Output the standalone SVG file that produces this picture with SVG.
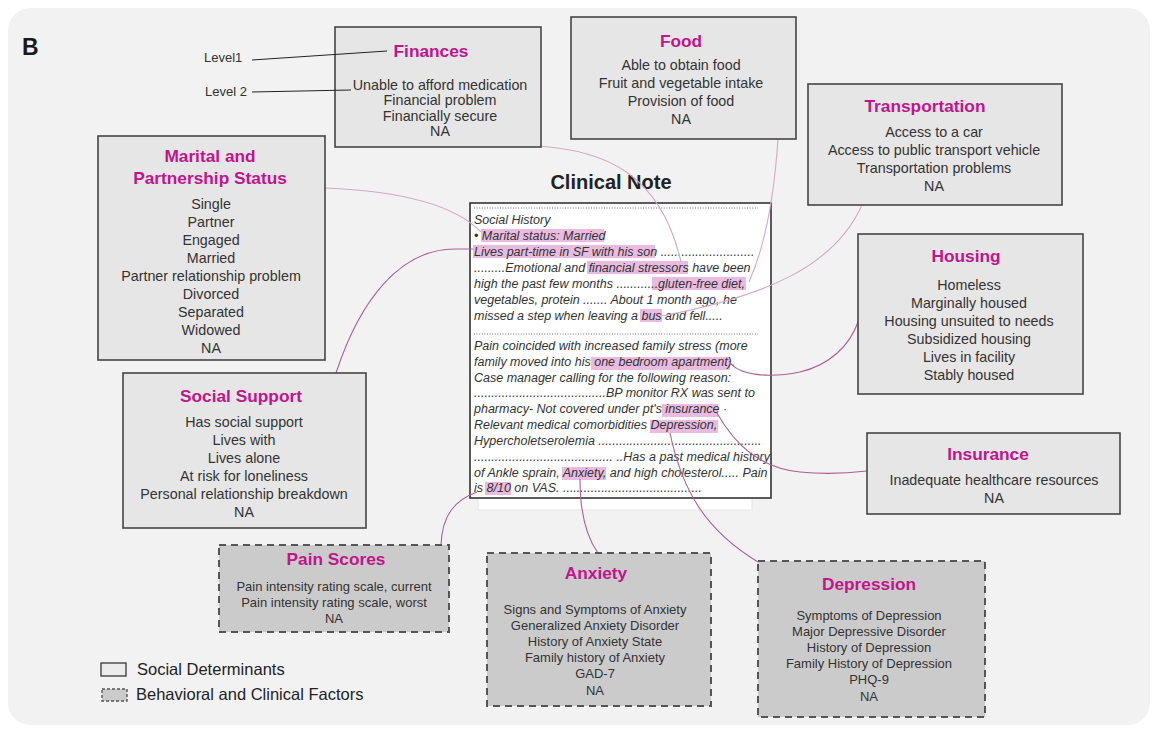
<svg xmlns="http://www.w3.org/2000/svg" width="1158" height="729" viewBox="0 0 1158 729">
<defs>
<style>
text{font-family:"Liberation Sans",Arial,Helvetica,sans-serif;}
.bg{fill:#f2f2f2;}
.sd{fill:#e6e6e6;stroke:#454545;stroke-width:1.6;}
.bc{fill:#cbcbcb;stroke:#555;stroke-width:2;stroke-dasharray:7 5;}
.tt{font-size:17.3px;font-weight:bold;fill:#c2148c;text-anchor:middle;}
.it{font-size:14.3px;fill:#333;text-anchor:middle;}
.is{font-size:13px;fill:#333;text-anchor:middle;}
.nt{font-size:12.5px;font-style:italic;fill:#333;}
.hl{fill:#e9bbe0;}
.dot{stroke:#777;stroke-width:1;stroke-dasharray:1 1.6;fill:none;}
.cp{fill:none;stroke:#d3a9c3;stroke-width:1.1;}
.cd{fill:none;stroke:#ad5f92;stroke-width:1.1;}
.lv{font-size:13px;fill:#333;}
.lg{font-size:16.5px;fill:#222;}
</style>
</defs>
<rect x="0" y="0" width="1158" height="729" fill="#ffffff"/>
<rect class="bg" x="8" y="8" width="1142" height="717" rx="22" ry="22"/>
<text x="22" y="55" style="font-size:23px;font-weight:bold;fill:#1a1a1a;">B</text>

<g id="note">
<text x="611" y="189" style="font-size:20px;font-weight:bold;fill:#222;text-anchor:middle;">Clinical Note</text>
<rect x="478" y="212" width="274" height="298" fill="#ffffff" stroke="#e6e6e6" stroke-width="1"/>
<rect x="470" y="203" width="301" height="295" fill="#ffffff" stroke="#333" stroke-width="1.6"/>
<line class="dot" x1="474" y1="208" x2="758" y2="208"/>
<line class="dot" x1="474" y1="334" x2="758" y2="334"/>
<rect class="hl" x="481" y="229" width="123" height="13"/>
<rect class="hl" x="473" y="245" width="182" height="13"/>
<rect class="hl" x="587" y="261" width="101" height="13"/>
<rect class="hl" x="652" y="277" width="94" height="13"/>
<rect class="hl" x="640" y="309" width="22" height="13"/>
<rect class="hl" x="591" y="357" width="139" height="13"/>
<rect class="hl" x="662" y="404" width="56" height="13"/>
<rect class="hl" x="650" y="420" width="68" height="13"/>
<rect class="hl" x="562" y="467" width="44" height="13"/>
<rect class="hl" x="485" y="482" width="26" height="13"/>
<text class="nt" x="474" y="224">Social History</text>
<text class="nt" x="474" y="240">• Marital status: Married</text>
<text class="nt" x="474" y="256">Lives part-time in SF with his son ...........................</text>
<text class="nt" x="474" y="272">.........Emotional and financial stressors have been</text>
<text class="nt" x="474" y="288">high the past few months ............gluten-free diet,</text>
<text class="nt" x="474" y="304">vegetables, protein ....... About 1 month ago, he</text>
<text class="nt" x="474" y="320">missed a step when leaving a bus and fell.....</text>
<text class="nt" x="474" y="350">Pain coincided with increased family stress (more</text>
<text class="nt" x="474" y="366">family moved into his one bedroom apartment).</text>
<text class="nt" x="474" y="382">Case manager calling for the following reason:</text>
<text class="nt" x="474" y="397">......................................BP monitor RX was sent to</text>
<text class="nt" x="474" y="413">pharmacy- Not covered under pt's insurance ·</text>
<text class="nt" x="474" y="429">Relevant medical comorbidities  Depression,</text>
<text class="nt" x="474" y="445">Hypercholetserolemia ...............................................</text>
<text class="nt" x="474" y="461">........................................ ..Has a past medical history</text>
<text class="nt" x="474" y="477">of Ankle sprain, Anxiety, and high cholesterol..... Pain</text>
<text class="nt" x="474" y="492">is 8/10 on VAS. ........................................</text>
</g>

<g id="connectors">
<path class="cp" d="M325,188 C400,191 455,205 481,232"/>
<path class="cd" d="M336,373 C360,300 400,249 455,249 L473,249"/>
<path class="cp" d="M538,146 C600,150 660,170 681,262"/>
<path class="cp" d="M778,139 Q772,230 749,282"/>
<path class="cp" d="M862,205 C835,265 770,295 662,316"/>
<path class="cd" d="M729,361 C738,376 770,378 800,372 C830,365 850,345 858,322"/>
<path class="cd" d="M717,413 C735,445 760,468 800,472 C830,475 850,473 867,471"/>
<path class="cd" d="M670,433 C682,490 705,530 758,562"/>
<path class="cd" d="M580,479 C580,510 585,535 598,553"/>
<path class="cd" d="M477,492 C455,500 442,515 441,545"/>
</g>

<g id="finances">
<rect class="sd" x="335" y="27" width="206" height="120"/>
<text class="tt" x="431" y="57">Finances</text>
<text class="it" x="440" y="90">Unable to afford medication</text>
<text class="it" x="440" y="105">Financial problem</text>
<text class="it" x="440" y="120.5">Financially secure</text>
<text class="it" x="440" y="136">NA</text>
</g>

<g id="food">
<rect class="sd" x="571" y="17" width="225" height="122"/>
<text class="tt" x="681" y="47">Food</text>
<text class="it" x="681" y="70">Able to obtain food</text>
<text class="it" x="681" y="88">Fruit and vegetable intake</text>
<text class="it" x="681" y="106">Provision of food</text>
<text class="it" x="681" y="124">NA</text>
</g>

<g id="transportation">
<rect class="sd" x="808" y="84" width="254" height="121"/>
<text class="tt" x="925" y="112">Transportation</text>
<text class="it" x="934" y="137">Access to a car</text>
<text class="it" x="934" y="155">Access to public transport vehicle</text>
<text class="it" x="934" y="173">Transportation problems</text>
<text class="it" x="934" y="191">NA</text>
</g>

<g id="marital">
<rect class="sd" x="98" y="136" width="227" height="224"/>
<text class="tt" x="210" y="162">Marital and</text>
<text class="tt" x="210" y="184">Partnership Status</text>
<text class="it" x="211" y="209">Single</text>
<text class="it" x="211" y="227">Partner</text>
<text class="it" x="211" y="245">Engaged</text>
<text class="it" x="211" y="263">Married</text>
<text class="it" x="211" y="281">Partner relationship problem</text>
<text class="it" x="211" y="299">Divorced</text>
<text class="it" x="211" y="317">Separated</text>
<text class="it" x="211" y="335">Widowed</text>
<text class="it" x="211" y="353">NA</text>
</g>

<g id="social-support">
<rect class="sd" x="123" y="373" width="243" height="155"/>
<text class="tt" x="241" y="402">Social Support</text>
<text class="it" x="244" y="427">Has social support</text>
<text class="it" x="244" y="445">Lives with</text>
<text class="it" x="244" y="463">Lives alone</text>
<text class="it" x="244" y="481">At risk for loneliness</text>
<text class="it" x="244" y="499">Personal relationship breakdown</text>
<text class="it" x="244" y="517">NA</text>
</g>

<g id="housing">
<rect class="sd" x="858" y="234" width="225" height="160"/>
<text class="tt" x="966" y="262">Housing</text>
<text class="it" x="969" y="290">Homeless</text>
<text class="it" x="969" y="308">Marginally housed</text>
<text class="it" x="969" y="326">Housing unsuited to needs</text>
<text class="it" x="969" y="344">Subsidized housing</text>
<text class="it" x="969" y="362">Lives in facility</text>
<text class="it" x="969" y="380">Stably housed</text>
</g>

<g id="insurance">
<rect class="sd" x="867" y="433" width="253" height="81"/>
<text class="tt" x="988" y="460">Insurance</text>
<text class="it" x="994" y="485">Inadequate healthcare resources</text>
<text class="it" x="994" y="503">NA</text>
</g>

<g id="pain-scores">
<rect class="bc" x="219" y="545" width="230" height="87"/>
<text class="tt" x="336" y="565">Pain Scores</text>
<text class="is" x="334" y="591">Pain intensity rating scale, current</text>
<text class="is" x="334" y="607">Pain intensity rating scale, worst</text>
<text class="is" x="334" y="623">NA</text>
</g>

<g id="anxiety">
<rect class="bc" x="487" y="553" width="224" height="153"/>
<text class="tt" x="596" y="579">Anxiety</text>
<text class="is" x="595" y="614">Signs and Symptoms of Anxiety</text>
<text class="is" x="595" y="630">Generalized Anxiety Disorder</text>
<text class="is" x="595" y="646">History of Anxiety State</text>
<text class="is" x="595" y="662">Family history of Anxiety</text>
<text class="is" x="595" y="678">GAD-7</text>
<text class="is" x="595" y="695">NA</text>
</g>

<g id="depression">
<rect class="bc" x="758" y="561" width="227" height="156"/>
<text class="tt" x="869" y="590">Depression</text>
<text class="is" x="869" y="620">Symptoms of Depression</text>
<text class="is" x="869" y="636">Major Depressive Disorder</text>
<text class="is" x="869" y="652">History of Depression</text>
<text class="is" x="869" y="668">Family History of Depression</text>
<text class="is" x="869" y="684">PHQ-9</text>
<text class="is" x="869" y="701">NA</text>
</g>

<g id="level-labels">
<text class="lv" x="204" y="62">Level1</text>
<text class="lv" x="205" y="96">Level 2</text>
<line x1="252" y1="60" x2="387" y2="51" stroke="#222" stroke-width="1"/>
<line x1="252" y1="92" x2="351" y2="90" stroke="#222" stroke-width="1"/>
</g>

<g id="legend">
<rect x="101" y="663" width="25" height="13" fill="#ececec" stroke="#444" stroke-width="1.4"/>
<text class="lg" x="137" y="675">Social Determinants</text>
<rect x="102" y="689" width="25" height="12" fill="#cbcbcb" stroke="#555" stroke-width="1.4" stroke-dasharray="3 2"/>
<text class="lg" x="136" y="700">Behavioral and Clinical Factors</text>
</g>
</svg>
